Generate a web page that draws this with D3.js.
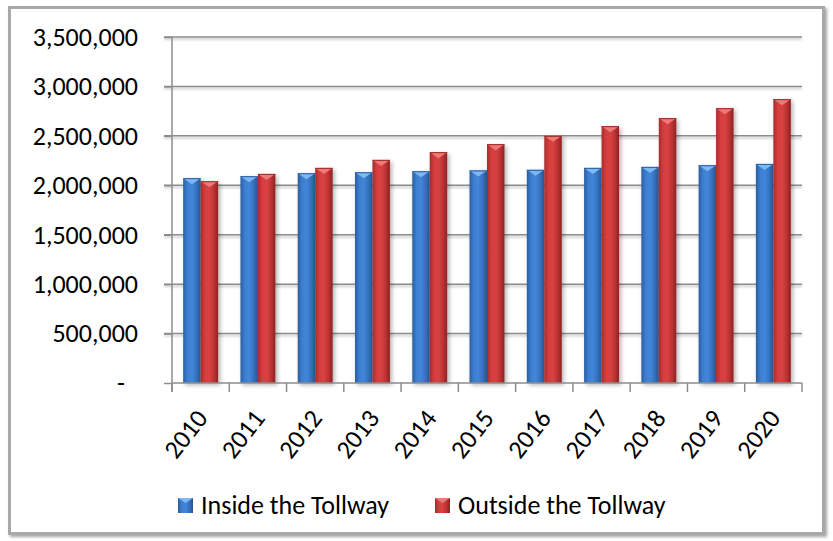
<!DOCTYPE html>
<html>
<head>
<meta charset="utf-8">
<script src="https://d3js.org/d3.v7.min.js"></script>
<style>
  body { margin: 0; background: #fff; }
  text { font-family: Carlito, Lato, "Open Sans", sans-serif; fill: #000; }
  .gridline { stroke: #8c8c8c; stroke-width: 1.5; }
  .axis path, .axis line { stroke: #8c8c8c; stroke-width: 1.5; }
</style>
</head>
<body>
<div id="chart"></div>
<script>
// data
var years = ["2010","2011","2012","2013","2014","2015","2016","2017","2018","2019","2020"];
var inside  = [2072000,2092000,2122000,2132000,2142000,2150000,2156000,2176000,2186000,2203000,2216000];
var outside = [2041000,2115000,2176000,2257000,2335000,2416000,2500000,2598000,2679000,2780000,2871000];
var seriesNames = ["Inside the Tollway","Outside the Tollway"];
var yTicks = [0,500000,1000000,1500000,2000000,2500000,3000000,3500000];

var width = 833, height = 541;
var margin = {top: 37, right: 31, bottom: 158, left: 172}; // plot area 172..802, 37..383
var w = width - margin.left - margin.right;
var h = height - margin.top - margin.bottom;
var fontSize = "26px";

var svg = d3.select("#chart").append("svg").attr("width", width).attr("height", height);
var defs = svg.append("defs");

// shadows
defs.append("filter").attr("id", "frameShadow").attr("x", "-5%").attr("y", "-5%").attr("width", "110%").attr("height", "110%")
  .append("feDropShadow").attr("dx", 2).attr("dy", 2).attr("stdDeviation", 1.5).attr("flood-color", "#000").attr("flood-opacity", 0.35);
defs.append("filter").attr("id", "lineShadow").attr("x", "-5%").attr("y", "-200%").attr("width", "110%").attr("height", "500%")
  .append("feDropShadow").attr("dx", 0).attr("dy", 2).attr("stdDeviation", 1).attr("flood-color", "#000").attr("flood-opacity", 0.25);
defs.append("filter").attr("id", "barShadow").attr("x", "-30%").attr("y", "-10%").attr("width", "160%").attr("height", "120%")
  .append("feDropShadow").attr("dx", 2).attr("dy", 2).attr("stdDeviation", 2).attr("flood-color", "#000").attr("flood-opacity", 0.3);

// cylinder-ish gradients for the bars
var palettes = [
  {id: "gBlue", stops: ["#2c5d9f", "#3d7fd2", "#4286d8", "#3672c0", "#28548f"], top: "#7cb8f2", edge: "#2c5d9f"},
  {id: "gRed",  stops: ["#a52c2c", "#d63d3d", "#d84242", "#be3333", "#8c2323"], top: "#f07878", edge: "#9c2a2a"}
];
palettes.forEach(function(p) {
  var g = defs.append("linearGradient").attr("id", p.id).attr("x1", 0).attr("x2", 1).attr("y1", 0).attr("y2", 0);
  [0, 0.25, 0.5, 0.75, 1].forEach(function(o, i) {
    g.append("stop").attr("offset", o).attr("stop-color", p.stops[i]);
  });
});

// outer frame
svg.append("rect")
  .attr("x", 9.5).attr("y", 7.5).attr("width", 814).attr("height", 526)
  .attr("fill", "#fff").attr("stroke", "#a8a8a8").attr("stroke-width", 3)
  .attr("filter", "url(#frameShadow)");

var container = svg.append("g").attr("transform", "translate(" + margin.left + "," + margin.top + ")");

// scales
var x0 = d3.scaleBand().domain(years).range([0, w]).padding(0);
var x1 = d3.scaleBand().domain([0, 1]).range([0, x0.bandwidth()]).paddingInner(0).paddingOuter(0.64);
var y = d3.scaleLinear().domain([0, 3500000]).range([h, 0]);

// gridlines with ticks on the left
container.append("g").attr("filter", "url(#lineShadow)")
  .selectAll("line.gridline").data(yTicks.slice(1)).enter().append("line")
  .attr("class", "gridline")
  .attr("x1", -8).attr("x2", w)
  .attr("y1", function(d) { return y(d); }).attr("y2", function(d) { return y(d); });

// y axis
var yAxis = d3.axisLeft(y).tickValues(yTicks).tickSize(8).tickPadding(26)
  .tickFormat(function(d) { return d === 0 ? "-\u2002" : d3.format(",")(d); });
var yg = container.append("g").attr("class", "axis").call(yAxis);
yg.select(".domain").attr("d", "M0," + (h + 9) + "V0");
yg.selectAll("text").style("font-size", fontSize);

// bars
var groups = container.selectAll("g.year").data(years).enter().append("g")
  .attr("class", "year")
  .attr("transform", function(d) { return "translate(" + x0(d) + ",0)"; })
  .attr("filter", "url(#barShadow)");

groups.each(function(yr, i) {
  var g = d3.select(this);
  [inside[i], outside[i]].forEach(function(v, s) {
    var p = palettes[s];
    var bx = x1(s), bw = x1.bandwidth(), by = y(v);
    g.append("rect").attr("x", bx).attr("y", by).attr("width", bw).attr("height", h - by)
      .attr("fill", "url(#" + p.id + ")");
    // bevel triangle on top
    g.append("path")
      .attr("d", "M" + bx + "," + by + "L" + (bx + bw) + "," + by + "L" + (bx + bw / 2) + "," + (by + 6) + "Z")
      .attr("fill", p.top);
    g.append("line").attr("x1", bx).attr("x2", bx + bw).attr("y1", by + 0.5).attr("y2", by + 0.5)
      .attr("stroke", p.edge).attr("stroke-width", 1);
  });
});

// x axis
var xg = container.append("g").attr("class", "axis").attr("transform", "translate(0," + h + ")");
xg.append("line").attr("x1", 0).attr("x2", w).attr("y1", 0).attr("y2", 0);
xg.selectAll("line.tick").data(d3.range(years.length + 1)).enter().append("line")
  .attr("class", "tick")
  .attr("x1", function(d) { return d * x0.step(); }).attr("x2", function(d) { return d * x0.step(); })
  .attr("y1", 0).attr("y2", 9);
xg.selectAll("text").data(years).enter().append("text")
  .attr("text-anchor", "end")
  .attr("transform", function(d) { return "translate(" + (x0(d) + x0.bandwidth() / 2 + 1) + ",30) rotate(-52)"; })
  .attr("dy", "0.35em")
  .style("font-size", fontSize)
  .text(function(d) { return d; });

// legend
var legend = svg.append("g").attr("transform", "translate(178,498)");
var legX = [0, 257];
seriesNames.forEach(function(name, s) {
  var p = palettes[s];
  var lg = legend.append("g").attr("transform", "translate(" + legX[s] + ",0)");
  lg.append("rect").attr("width", 15).attr("height", 15).attr("fill", "url(#" + p.id + ")");
  lg.append("path").attr("d", "M0,0L15,0L7.5,5Z").attr("fill", p.top);
  lg.append("text").attr("x", 23).attr("y", 16).style("font-size", fontSize).text(name);
});
</script>
</body>
</html>
